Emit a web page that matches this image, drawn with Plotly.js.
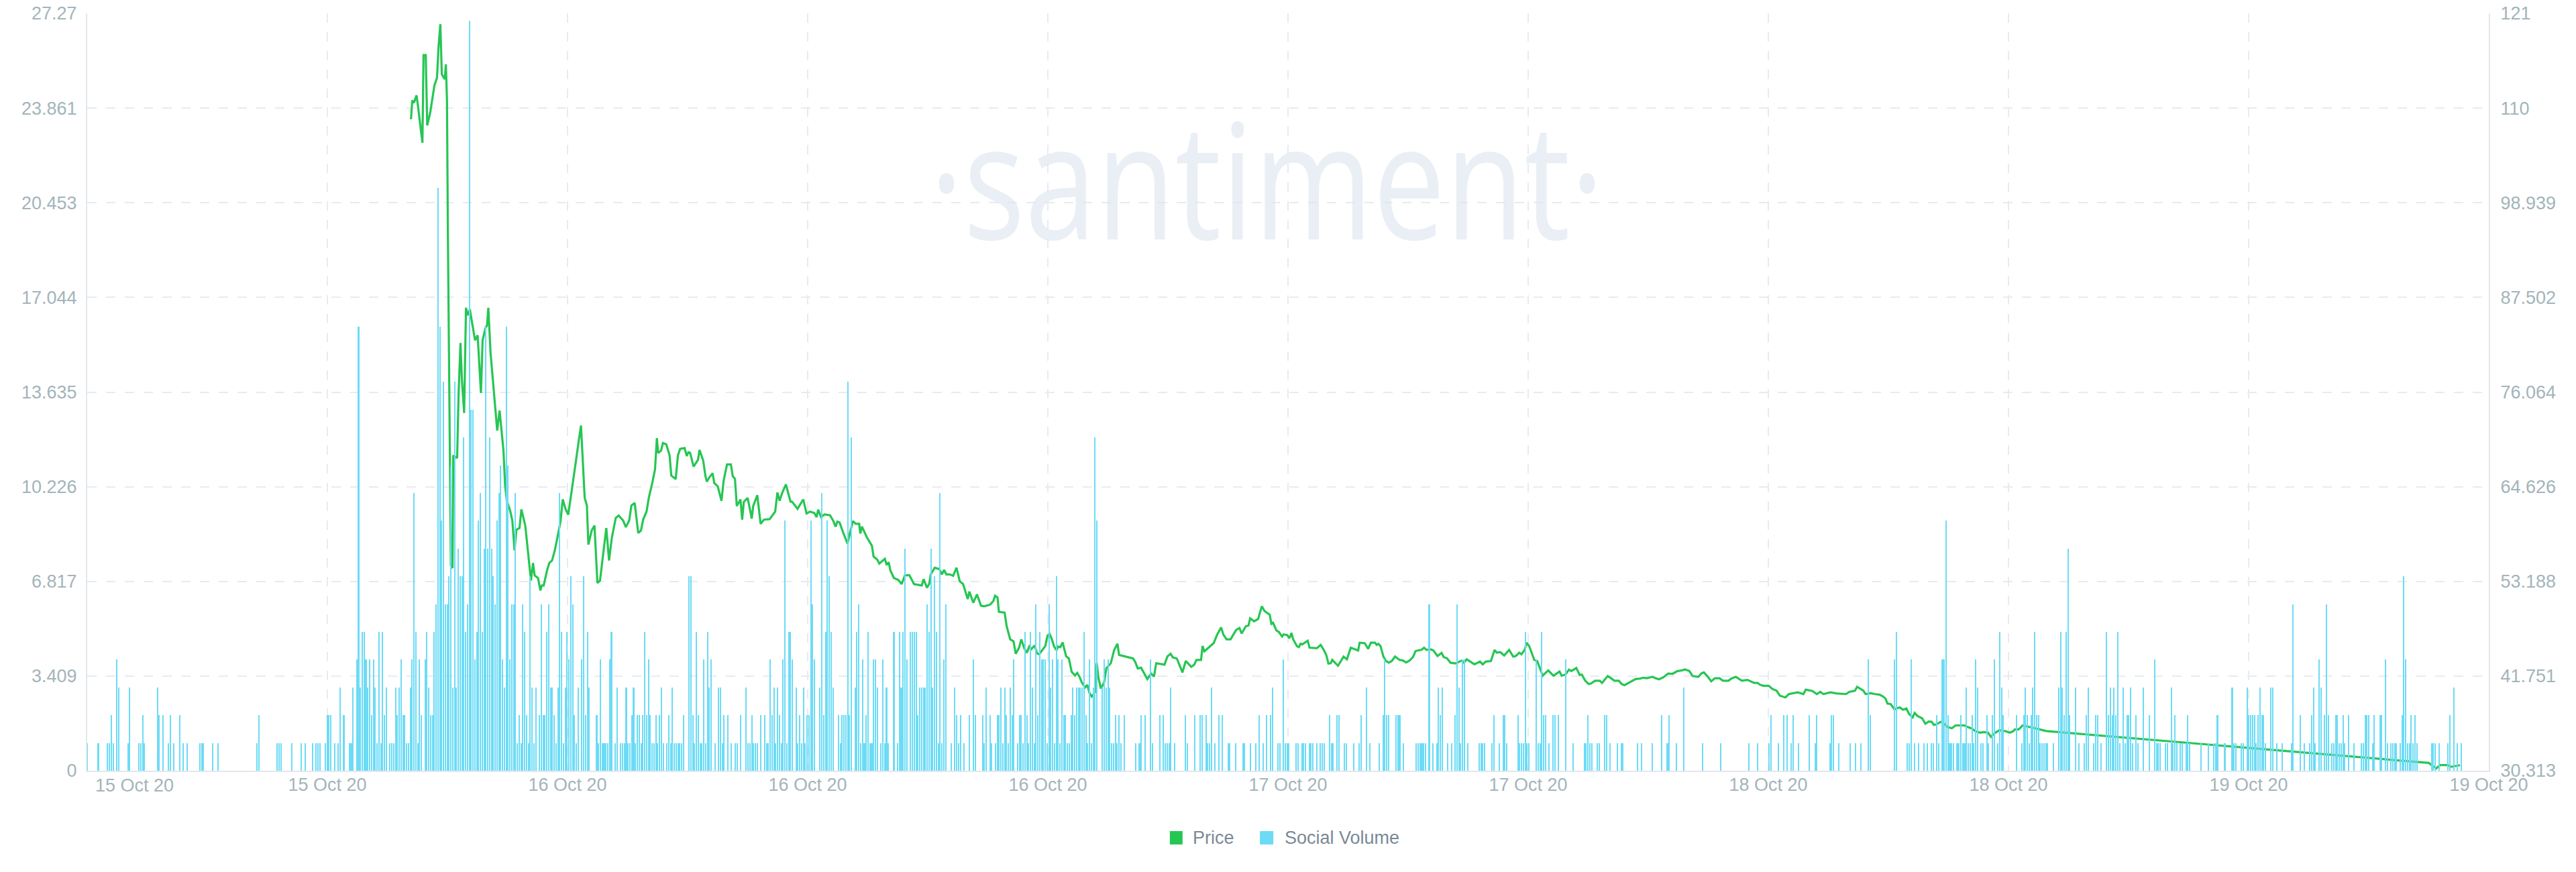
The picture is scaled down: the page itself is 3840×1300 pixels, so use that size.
<!DOCTYPE html>
<html>
<head>
<meta charset="utf-8">
<script src="https://cdn.plot.ly/plotly-3.0.1.min.js"></script>
<style>
html, body { margin: 0; padding: 0; background: #ffffff; }
#chart { width: 3840px; height: 1300px; }
</style>
</head>
<body>
<div id="chart"></div>
<script>
// ---------------- DATA ----------------
const seriesNames = ['Price', 'Social Volume'];
const watermarkText = '\u00B7santiment\u00B7';

// x-axis tick labels (10 equal divisions of the visible time span)
const xTickLabels = ['15 Oct 20', '15 Oct 20', '16 Oct 20', '16 Oct 20', '16 Oct 20',
  '17 Oct 20', '17 Oct 20', '18 Oct 20', '18 Oct 20', '19 Oct 20', '19 Oct 20'];

// left (price) axis ticks
const priceTickValues = [0, 3.409, 6.817, 10.226, 13.635, 17.044, 20.453, 23.861, 27.27];
const priceTickLabels = ['0', '3.409', '6.817', '10.226', '13.635', '17.044', '20.453', '23.861', '27.27'];
// right (social volume) axis labels as printed on the chart
const volumeTickLabels = ['30.313', '41.751', '53.188', '64.626', '76.064', '87.502', '98.939', '110', '121'];

// time base: 5-minute slots starting 15 Oct 2020 04:00
const startTime = Date.UTC(2020, 9, 15, 4, 0);
const slotMinutes = 5;
const visibleSlots = 1301;

// Social volume, [slot, count] pairs (zero slots omitted)
const volA = [[0,1],[6,1],[11,1],[12,1],[13,2],[14,1],[16,4],[17,3],[22,1],[23,3],
  [28,1],[29,1],[30,2],[31,1],[38,3],[39,2],[41,2],[44,1],[45,2],[47,1],
  [50,2],[52,1],[54,1],[61,1],[62,1],[63,1],[68,1],[71,1],[92,1],[93,2],
  [103,1],[104,1],[105,1],[111,1],[116,1],[118,1],[122,1],[124,1],[125,1],[126,1],
  [129,1],[130,2],[131,2],[132,2],[134,1],[136,1],[137,3],[139,2],[142,1],[143,1],
  [144,3],[146,4],[147,16],[148,3],[149,5],[150,5],[151,4],[152,3],[153,4],[154,2],
  [155,4],[156,3],[157,1],[158,5],[159,1]];

// Social volume, consecutive slots 160..321
const volBStart = 160;
const volB = [5,2,3,0,1,1,1,3,2,3,
  4,2,2,1,1,3,4,10,5,1,
  4,2,0,4,5,3,2,2,5,6,
  21,16,9,14,6,6,7,11,3,14,
  3,8,7,7,12,5,6,27,13,13,
  4,5,9,10,5,8,16,8,12,8,
  7,6,9,10,11,4,3,16,11,4,
  6,6,10,1,2,1,6,5,2,1,
  7,3,1,3,0,2,6,2,2,5,
  6,3,3,2,1,3,10,5,1,3,
  5,4,7,6,2,1,3,0,4,7,
  2,5,3,0,0,0,2,1,4,1,
  1,1,1,4,5,0,1,3,0,1,
  1,1,3,1,1,2,3,1,2,2,
  1,2,5,2,4,2,1,1,2,1,
  2,3,1,0,1,2,1,3,1,1,1,1];

const volC = [[322,1],[323,2],[326,7],[327,7],[328,2],[329,1],[330,5],[331,2],[332,1],[333,1],
  [334,4],[335,1],[336,5],[337,3],[338,4],[340,1],[342,3],[343,3],[344,1],[345,2],
  [347,2],[349,1],[351,1],[352,1],[354,2],[357,3],[358,1],[359,1],[360,2],[361,1],
  [362,1],[363,1],[365,2],[367,2],[368,1],[369,1],[370,4],[371,2],[372,3],[373,1],
  [374,3],[375,2],[376,1],[377,4],[378,9],[379,1],[380,5],[381,5],[382,4],[384,3],
  [385,1],[386,2],[387,1],[388,3],[389,1],[390,2],[391,2],[392,9],[393,6],[394,4],
  [397,3],[398,10],[399,2],[400,5],[401,9],[402,7],[403,5],[404,3],[407,2],[408,1],
  [409,2],[410,2],[411,2],[412,14],[413,2],[414,12],[416,3],[417,5],[418,6],[419,1],
  [420,4],[421,1],[422,2],[423,5],[424,1],[425,1],[426,4],[427,4],[428,3],[430,1],
  [431,4],[432,1],[433,3],[434,1],[437,5],[439,1],[440,5],[441,3],[442,5],[443,8],
  [444,4],[446,5],[447,5],[448,5],[449,5],[450,2],[451,3],[452,3],[453,3],[454,3],
  [455,6],[456,5],[457,8],[458,3],[459,7],[460,5],[461,1],[462,10],[463,1],[464,4],
  [465,6],[468,1],[470,3],[471,2],[472,1],[473,2],[475,1],[478,2],[480,4],[481,2]];

const volD = [[485,2],[486,1],[487,3],[489,2],[490,1],[492,1],[493,2],[494,2],[495,3],[496,1],
  [497,3],[498,2],[499,1],[500,3],[501,2],[502,4],[504,1],[505,2],[506,2],[507,1],
  [508,5],[509,2],[510,1],[511,5],[512,3],[513,1],[514,6],[515,2],[516,5],[517,4],
  [518,4],[519,4],[520,1],[521,6],[522,3],[523,4],[524,1],[525,7],[526,4],[527,1],
  [528,4],[529,2],[530,2],[531,1],[532,1],[533,2],[534,3],[535,2],[536,3],[537,3],
  [538,3],[539,3],[540,5],[541,2],[542,1],[543,4],[544,1],[545,3],[546,12],[547,9],
  [550,3],[551,4],[552,3],[553,4],[554,3],[555,1],[556,1],[557,2],[558,1],[559,2],
  [560,1],[562,2],[568,1],[570,1],[571,2],[573,2],[576,4],[577,1],[581,2],[583,2],
  [584,1],[585,1],[586,1],[587,3],[589,1],[595,2],[596,1],[600,2],[603,2],[604,2],
  [606,2],[607,1],[608,1],[609,3],[611,1],[613,2],[615,2],[618,1],[619,1],[622,1],
  [626,1],[627,1],[630,1],[633,1],[635,2],[637,1],[639,2],[641,2],[642,3],[645,1],[646,1]];

const volE = [[648,4],[649,1],[650,1],[651,1],[655,1],[656,1],[658,1],[659,1],[660,1],[662,1],
  [663,1],[664,1],[666,1],[668,1],[669,1],[670,1],[673,2],[674,1],[675,1],[677,2],
  [678,2],[681,1],[682,1],[686,1],[689,1],[690,2],[693,3],[695,1],[700,1],[702,2],
  [703,4],[704,2],[705,2],[709,2],[710,2],[711,2],[713,1],[720,1],[721,1],[722,1],
  [723,1],[724,1],[725,1],[727,6],[729,1],[731,1],[732,3],[733,2],[734,3],[737,1],
  [739,1],[741,2],[742,6],[743,3],[744,1],[745,4],[746,4],[748,1],[754,1],[755,1],
  [756,1],[757,1],[761,1],[762,2],[765,1],[767,2],[768,2],[769,1],[775,2],[776,1],
  [777,1],[778,1],[779,5],[780,1],[781,1],[785,4],[786,1],[787,1],[788,5],[789,2],
  [790,2],[792,1],[794,2],[795,2],[797,2],[801,4],[805,1]];

const volF = [[811,1],[812,1],[813,2],[814,1],[815,1],[818,1],[819,1],[822,2],[823,2],[825,1],
  [829,1],[831,1],[832,1],[840,1],[842,1],[848,1],[853,2],[856,1],[857,2],[861,1],
  [865,3],[875,1],[885,1],[900,1],[905,1],[911,1],[912,2],[916,1],[919,2],[921,2],
  [923,1],[924,2],[927,1],[933,2],[936,1],[937,2],[944,1],[945,2],[946,2],[949,1],
  [955,1],[958,1],[961,1],[965,4],[966,2]];

const volG = [[979,4],[980,5],[986,1],[987,1],[988,4],[990,1],[992,1],[995,1],[997,1],[999,1],
  [1000,1],[1002,2],[1003,1],[1005,4],[1006,4],[1007,9],[1008,2],[1009,1],[1010,1],[1011,1],
  [1013,1],[1014,1],[1015,2],[1016,1],[1017,1],[1018,3],[1019,1],[1020,1],[1021,2],[1022,1],
  [1023,4],[1024,3],[1026,1],[1027,1],[1029,2],[1030,1],[1032,2],[1033,4],[1035,1],[1036,5],
  [1037,3],[1038,2],[1045,2],[1048,1],[1049,2],[1050,3],[1051,2],[1052,1],[1053,2],[1054,3],
  [1055,5],[1056,2],[1057,2],[1058,1],[1059,1],[1060,1],[1061,1],[1062,1],[1065,1],[1068,3],
  [1069,5],[1070,3],[1071,2],[1072,5],[1073,8],[1074,2],[1077,3],[1079,1],[1082,1],[1083,2],
  [1084,3],[1087,1],[1088,2],[1089,2],[1091,1],[1094,5],[1095,2],[1096,3],[1097,2],[1098,3],
  [1099,2],[1100,5],[1101,1],[1103,3],[1104,1],[1105,2],[1106,2],[1107,3],[1108,1],[1110,2],
  [1111,1],[1114,3],[1117,2],[1120,4],[1121,1],[1122,1],[1123,1],[1126,1],[1127,1],[1129,3],
  [1130,1],[1131,2],[1132,1]];

const volH = [[1134,1],[1135,1],[1137,1],[1138,2],[1139,1],[1145,1],[1149,1],[1152,1],[1153,1],[1154,2],
  [1158,1],[1162,3],[1163,1],[1164,1],[1167,1],[1168,1],[1170,3],[1171,2],[1172,2],[1173,2],
  [1174,2],[1175,1],[1176,2],[1177,3],[1178,2],[1179,2],[1180,1],[1183,3],[1184,3],[1186,1],
  [1189,1],[1194,1],[1195,6],[1199,2],[1201,1],[1204,1],[1205,2],[1206,3],[1207,1],[1209,4],
  [1210,3],[1212,2],[1213,6],[1214,2],[1216,1],[1217,1],[1218,2],[1219,2],[1220,1],[1221,1],
  [1222,2],[1223,1],[1225,2],[1228,1],[1232,1],[1233,1],[1234,2],[1235,2],[1236,2],[1238,1],
  [1239,2],[1242,2],[1243,2],[1245,4],[1246,1],[1248,1],[1249,1],[1250,1],[1251,1],[1253,1],
  [1254,2],[1255,7],[1256,4],[1257,1],[1258,1],[1259,2],[1260,1],[1261,2],[1262,1],[1270,1],
  [1271,1],[1272,1],[1274,1],[1279,1],[1280,2],[1282,3],[1284,1],[1286,1]];

// Price (USD), [slot, price] pairs
const priceA = [[175.4,23.46],[176.1,24.14],[177.0,24.05],[177.8,24.2],[178.4,24.32],[179.2,23.93],[180.0,23.51],
  [181.6,22.61],[182.2,25.77],[183.4,25.77],[184.2,23.24],[185.8,23.69],[188.1,24.68],[189.5,24.95],
  [190.3,26.04],[191.3,26.88],[192.1,25.08],[193.7,24.9],[194.3,25.44],[194.9,24.14],[195.4,19.28],
  [196.1,14.05],[197.0,7.39],[197.9,7.3],[198.3,11.35],[200.4,11.26],[201.2,13.6],[202.2,15.4],
  [203.0,14.05],[204.2,12.88],[205.2,16.67],[206.1,16.4],[207.3,16.61],[208.5,16.13],[210.1,15.5],
  [211.5,15.68],[212.5,14.59],[213.3,13.6],[214.2,15.5],[215.8,15.95],[216.6,16.04],[217.3,16.67],
  [218.5,15.05],[219.8,14.05],[221.0,12.97],[222.1,12.25],[223.4,12.97],[224.2,12.34],[225.5,11.53],
  [226.4,10.27],[227.3,9.73],[229.1,9.37],[230.3,9.01],[231.5,7.93],[232.5,8.68],[234.2,8.74],
  [235.2,9.41],[237.3,8.83],[238.8,7.93],[240.4,6.85],[241.5,7.48],[242.4,7.03],[244.2,6.94],
  [245.5,6.49],[246.3,6.67],[247.3,6.67],[249.1,7.21],[250.3,7.48],[251.8,7.57],[253.3,7.93],
  [255.2,8.56],[256.4,8.97],[257.6,9.77],[259.2,9.41],[260.6,9.22],[262.8,10.18],[264.8,11.17],
  [266.3,11.89],[267.5,12.43],[269.5,9.82],[270.7,9.55],[271.5,8.14],[273.3,8.65],[274.8,8.83],
  [276.4,6.76],[277.8,6.85],[281.2,8.74],[282.7,7.57],[284.2,8.38],[286.3,9.1],[287.9,9.19],
  [290.3,9.01],[291.8,8.77],[293.6,9.01],[294.8,9.55],[296.6,9.64],[298.5,8.56],[300.0,8.65],
  [301.2,9.05],[303.0,9.33],[304.2,9.82],[306.1,10.36],[307.6,10.85],[308.6,11.98],[309.3,11.44],
  [310.9,11.53],[311.9,11.8],[313.7,11.75],[315.5,11.35],[316.4,10.63],[318.8,10.5],[320.0,11.35],
  [321.2,11.59]];

const priceB = [[323.6,11.62],[324.8,11.33],[325.7,11.47],[326.6,11.45],[328.5,10.95],[330.9,11.2],
  [331.7,11.55],[333.7,11.17],[334.9,10.61],[335.7,10.41],[337.0,10.56],[338.8,10.71],[339.7,10.36],
  [341.6,10.24],[343.6,9.72],[344.8,10.46],[346.6,11.03],[348.7,11.03],[349.7,10.61],[350.9,10.51],
  [351.9,9.53],[353.9,9.77],[354.8,9.04],[355.7,9.68],[357.8,9.82],[360.0,9.08],[360.8,9.53],
  [363.0,9.92],[364.8,8.89],[366.6,9.04],[369.7,9.06],[372.7,9.33],[373.9,10.02],[375.1,9.72],
  [376.3,9.97],[378.5,10.31],[381.0,9.69],[381.8,9.69],[384.8,9.43],[387.9,9.77],[389.7,9.26],
  [391.5,9.33],[393.9,9.28],[395.1,9.13],[396.0,9.4],[397.6,9.13],[399.4,9.23],[402.4,9.2],
  [404.2,8.99],[405.4,8.79],[406.4,8.97],[407.6,8.94],[409.7,8.54],[411.9,8.18],[413.3,8.59],
  [414.8,8.99],[416.3,8.89],[418.2,8.89],[418.8,8.54],[419.7,8.79],[422.4,8.4],[425.1,8.1],
  [426.0,7.71],[427.9,7.61],[429.1,7.46],[432.1,7.63],[433.1,7.41],[434.2,7.51],[435.1,7.21],
  [437.0,6.94],[439.4,6.87],[441.2,6.72],[443.0,7.04],[445.4,7.04],[447.9,6.72],[450.3,6.7],
  [452.1,6.67],[453.1,6.9],[454.9,6.59],[456.1,6.72],[457.0,7.07],[459.1,7.31],[461.6,7.26],
  [463.0,7.07],[464.2,7.23],[465.4,7.07],[467.3,7.07],[469.1,7.02],[470.9,7.31],[472.7,6.82],
  [474.5,6.72],[477.0,6.18],[477.9,6.45],[480.0,6.05],[482.0,6.35],[484.2,5.94]];

const priceC = [[486.0,5.92],[489.1,5.98],[490.9,6.11],[491.8,6.3],[493.1,6.24],[493.9,5.72],[497.0,5.69],
  [498.1,5.2],[500.0,4.73],[501.8,4.66],[503.0,4.21],[504.8,4.43],[506.0,4.73],[507.8,4.38],
  [509.1,4.25],[510.3,4.47],[511.5,4.38],[513.3,4.51],[514.5,4.23],[515.7,4.19],[517.5,4.34],
  [519.0,4.49],[520.2,4.86],[521.4,4.92],[522.6,4.73],[523.8,4.47],[525.1,4.34],[526.0,4.47],
  [527.2,4.45],[528.4,4.62],[530.3,4.12],[531.8,4.04],[533.3,3.56],[535.1,3.43],[536.3,3.52],
  [537.5,3.39],[538.8,3.18],[540.6,3.0],[541.8,3.09],[543.0,2.79],[544.2,2.67],[546.0,2.83],
  [546.9,3.87],[547.8,3.35],[549.1,2.96],[550.9,3.18],[552.1,3.69],[554.5,3.87],[556.3,4.34],
  [558.1,4.57],[559.0,4.17],[562.4,4.11],[566.6,4.04],[567.8,3.91],[569.1,3.68],[570.9,3.71],
  [574.3,3.3],[576.3,3.5],[577.9,3.39],[579.1,3.87],[583.6,3.82],[585.2,4.12],[586.9,4.21],
  [588.1,4.08],[590.3,4.04],[593.3,3.54],[595.1,3.95],[598.1,3.74],[599.7,3.82],[600.9,3.99],
  [603.4,3.99],[604.2,4.49],[605.2,4.3],[607.8,4.45],[610.3,4.6],[612.1,4.9],[614.3,5.16],
  [615.5,4.9],[617.2,4.73],[619.4,4.73],[622.4,5.07],[624.2,5.14],[625.4,4.94],[627.6,5.2],
  [629.1,5.23],[630.0,5.49],[632.1,5.38],[634.3,5.46],[636.3,5.92],[637.8,5.75],[640.6,5.62],
  [641.5,5.29],[642.4,5.33],[644.2,5.05]];

const priceD = [[645.5,5.0],[647.3,4.83],[648.1,4.91],[650.1,4.88],[651.3,4.77],[652.4,4.96],[653.3,4.73],
  [655.4,4.48],[656.4,4.45],[657.3,4.57],[658.2,4.55],[661.2,4.68],[662.2,4.43],[666.1,4.41],
  [668.2,4.53],[669.7,4.37],[671.2,4.17],[672.4,3.86],[673.6,3.87],[674.5,3.99],[677.6,3.78],
  [680.6,4.11],[682.4,4.01],[684.5,4.43],[688.5,4.33],[689.3,4.61],[692.1,4.59],[693.9,4.39],
  [695.4,4.61],[697.6,4.61],[698.5,4.53],[699.4,4.57],[700.6,4.49],[702.2,4.11],[703.6,3.95],
  [705.1,3.89],[706.7,3.95],[708.5,4.11],[710.9,3.99],[712.7,3.97],[714.5,3.9],[716.4,3.97],
  [718.2,4.09],[719.6,4.31],[723.0,4.36],[724.2,4.43],[725.5,4.35],[727.9,4.37],[729.3,4.33],
  [731.5,4.13],[733.7,4.24],[734.9,4.09],[736.6,4.05],[738.5,3.89],[741.2,3.86],[744.8,3.97],
  [745.8,3.89],[747.3,4.01],[751.5,3.83],[754.5,3.93],[756.0,3.83],[757.6,3.93],[760.4,3.95],
  [762.4,4.35],[763.6,4.25],[765.5,4.27],[767.6,4.15],[770.3,4.35],[772.5,4.11],[773.9,4.13],
  [775.8,4.25],[777.0,4.19],[778.8,4.37],[779.8,4.61],[781.2,4.48],[782.7,4.21],[783.9,3.99],
  [785.5,3.95],[787.0,3.69],[788.5,3.42],[790.3,3.54],[791.5,3.61],[794.3,3.42],[795.8,3.49],
  [797.6,3.57],[798.8,3.42],[800.8,3.46],[802.7,3.64],[804.0,3.59],[806.7,3.7]];

const priceE = [[808.5,3.45],[809.7,3.46],[811.5,3.24],[813.4,3.12],[814.6,3.14],[816.8,3.24],[819.4,3.24],
  [820.6,3.16],[823.7,3.41],[825.5,3.33],[827.3,3.24],[829.7,3.24],[831.3,3.12],[832.8,3.08],
  [834.6,3.14],[836.4,3.22],[838.8,3.3],[841.2,3.32],[843.1,3.35],[844.9,3.33],[847.9,3.38],
  [849.7,3.33],[851.5,3.29],[854.0,3.37],[856.4,3.5],[858.8,3.49],[861.2,3.58],[864.3,3.62],
  [865.5,3.65],[867.9,3.59],[869.7,3.41],[872.8,3.38],[874.6,3.51],[875.8,3.54],[877.6,3.41],
  [879.8,3.22],[881.8,3.33],[884.3,3.33],[886.1,3.24],[889.1,3.24],[890.9,3.33],[893.1,3.38],
  [896.4,3.24],[899.4,3.27],[903.1,3.16],[904.9,3.16],[906.1,3.1],[907.9,3.06],[910.9,3.06],
  [912.8,2.95],[915.2,2.88],[917.0,2.7],[918.6,2.66],[920.0,2.64],[921.8,2.76],[924.3,2.79],
  [926.7,2.82],[929.7,2.76],[931.0,2.92],[934.6,2.87],[937.0,2.76],[938.8,2.84],[940.6,2.76],
  [944.3,2.82],[947.9,2.78],[952.8,2.76],[954.6,2.84],[957.6,2.88],[958.8,3.02],[960.6,2.95],
  [962.2,2.88],[963.4,2.76],[966.1,2.79],[968.5,2.76]];

const priceF = [[970.9,2.74],[972.7,2.68],[974.2,2.6],[975.2,2.42],[977.0,2.4],[979.0,2.21],[980.6,2.25],
  [981.8,2.28],[983.6,2.2],[985.5,2.24],[987.0,2.04],[988.9,1.92],[990.0,2.08],[991.5,1.97],
  [994.0,1.89],[995.8,1.69],[997.6,1.77],[999.2,1.76],[1000.4,1.65],[1001.8,1.67],[1003.6,1.74],
  [1004.9,1.77],[1007.6,1.58],[1010.1,1.53],[1012.1,1.63],[1014.9,1.63],[1017.0,1.63],[1018.2,1.59],
  [1020.6,1.53],[1023.0,1.42],[1025.5,1.37],[1027.3,1.39],[1029.7,1.37],[1031.3,1.22],[1033.3,1.35],
  [1035.8,1.46],[1038.8,1.43],[1041.6,1.37],[1043.3,1.42],[1044.3,1.49],[1046.3,1.49],[1048.5,1.63],
  [1051.5,1.59],[1056.4,1.51],[1061.2,1.43],[1268.5,0.28],[1270.3,0.19],[1272.5,0.08],[1274.5,0.2],
  [1278.8,0.2],[1280.6,0.14],[1282.4,0.17],[1285.4,0.2]];

// ---------------- BUILD ----------------
const slotMs = slotMinutes * 60 * 1000;
const slotToTime = s => startTime + s * slotMs;

const volPairs = [].concat(
  volA,
  volB.map((v, i) => [volBStart + i, v]).filter(p => p[1] > 0),
  volC, volD, volE, volF, volG, volH
);
const volX = volPairs.map(p => slotToTime(p[0]));
const volY = volPairs.map(p => p[1]);

const pricePairs = [].concat(priceA, priceB, priceC, priceD, priceE, priceF);
const priceX = pricePairs.map(p => slotToTime(p[0]));
const priceY = pricePairs.map(p => p[1]);

const xStart = startTime;
const xEnd = slotToTime(visibleSlots);
const xTickVals = xTickLabels.map((_, k) => xStart + k * (xEnd - xStart) / (xTickLabels.length - 1));
const xTickText = xTickLabels.map((t, k) => (k === 0 ? '' : t));

const priceColor = '#26c653';
const volColor = '#6cdbf5';
const labelColor = '#a3b4ba';
const gridColor = '#e6ebf2';
const lineColor = '#e3e8ef';
const fontFamily = '"Liberation Sans", Arial, sans-serif';

const traces = [
  {
    type: 'bar', name: seriesNames[1], x: volX, y: volY, yaxis: 'y2',
    width: slotMs * 0.74,
    marker: { color: volColor, line: { width: 0 } },
    showlegend: false, hoverinfo: 'x+y'
  },
  {
    type: 'scatter', mode: 'lines', name: seriesNames[0], x: priceX, y: priceY, yaxis: 'y',
    line: { color: priceColor, width: 3.2 },
    showlegend: false
  }
];

const layout = {
  width: 3840, height: 1300,
  margin: { l: 130, r: 130, t: 20, b: 151 },
  paper_bgcolor: '#ffffff', plot_bgcolor: '#ffffff',
  font: { family: fontFamily, size: 27, color: labelColor },
  showlegend: false,
  bargap: 0,
  xaxis: {
    type: 'date', range: [xStart, xEnd],
    tickmode: 'array', tickvals: xTickVals, ticktext: xTickText,
    showgrid: true, gridcolor: gridColor, gridwidth: 2, griddash: '14px,14px',
    showline: true, linecolor: lineColor, linewidth: 2,
    zeroline: false, ticks: '', ticklabelstandoff: -4,
    tickfont: { family: fontFamily, size: 27, color: labelColor },
    fixedrange: true
  },
  yaxis: {
    range: [0, 27.27],
    tickmode: 'array', tickvals: priceTickValues, ticktext: priceTickLabels,
    showgrid: true, gridcolor: gridColor, gridwidth: 2, griddash: '14px,14px',
    showline: true, linecolor: lineColor, linewidth: 2,
    zeroline: false, ticks: '', ticklabelstandoff: 8,
    tickfont: { family: fontFamily, size: 27, color: labelColor }
  },
  yaxis2: {
    overlaying: 'y', side: 'right', range: [0, 27.27],
    tickmode: 'array', tickvals: priceTickValues, ticktext: volumeTickLabels,
    showgrid: false,
    showline: true, linecolor: lineColor, linewidth: 2,
    zeroline: false, ticks: '', ticklabelstandoff: 10,
    tickfont: { family: fontFamily, size: 27, color: labelColor }
  },
  shapes: [
    { type: 'rect', xref: 'paper', yref: 'paper', x0: 0.4508, x1: 0.4561, y0: -0.0974, y1: -0.0797,
      fillcolor: priceColor, line: { width: 0 } },
    { type: 'rect', xref: 'paper', yref: 'paper', x0: 0.4883, x1: 0.4939, y0: -0.0974, y1: -0.0797,
      fillcolor: volColor, line: { width: 0 } }
  ],
  annotations: [
    { text: watermarkText, xref: 'paper', yref: 'paper', x: 0.4913, y: 0.784,
      xanchor: 'center', yanchor: 'middle', showarrow: false,
      font: { family: '"Open Sans", sans-serif', size: 240, color: 'rgba(220,228,240,0.6)' } },
    { text: xTickLabels[0], xref: 'paper', yref: 'paper', x: 0, y: -0.0195, xshift: 10,
      xanchor: 'left', yanchor: 'middle', showarrow: false,
      font: { family: fontFamily, size: 27, color: labelColor } },
    { text: seriesNames[0], xref: 'paper', yref: 'paper', x: 0.4598, y: -0.0886,
      xanchor: 'left', yanchor: 'middle', showarrow: false,
      font: { family: fontFamily, size: 27, color: '#7a8995' } },
    { text: seriesNames[1], xref: 'paper', yref: 'paper', x: 0.4980, y: -0.0886,
      xanchor: 'left', yanchor: 'middle', showarrow: false,
      font: { family: fontFamily, size: 27, color: '#7a8995' } }
  ]
};

Plotly.newPlot('chart', traces, layout, { displayModeBar: false, staticPlot: true }).then(gd => {
  gd.querySelectorAll('.annotation-text').forEach(t => {
    if (t.textContent === watermarkText) {
      t.style.transformBox = 'fill-box';
      t.style.transformOrigin = 'center';
      t.style.transform = 'scaleX(0.8)';
    }
  });
});
</script>
</body>
</html>
